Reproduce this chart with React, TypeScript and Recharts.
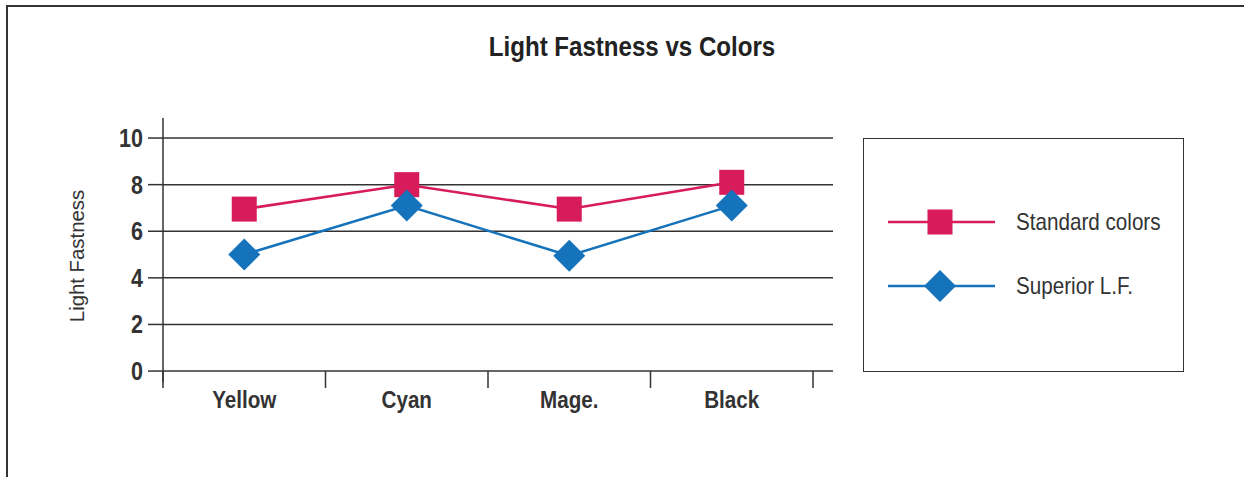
import { CartesianGrid, Legend, Line, LineChart, ReferenceLine, XAxis, YAxis } from "recharts";

const categories = ["Yellow", "Cyan", "Mage.", "Black"];
const standardColors = [6.95, 8, 6.95, 8.1];
const superiorLF = [5, 7.1, 4.95, 7.1];
const yTicks = [0, 2, 4, 6, 8, 10];

const RED = "#D81B5A";
const BLUE = "#1573BB";
const INK = "#333333";
const FONT = "'Liberation Sans', Arial, sans-serif";
const SQUEEZE = 0.86; // the original uses a condensed face

const data = categories.map((name, i) => ({
  name,
  standard: standardColors[i],
  superior: superiorLF[i],
}));

// square marker for the standard series
const SquareDot = (props: any) => {
  const { cx, cy } = props;
  if (cx == null || cy == null) return null;
  return <rect x={cx - 12.5} y={cy - 12.5} width={25} height={25} fill={RED} />;
};

// diamond marker for the superior series
const DiamondDot = (props: any) => {
  const { cx, cy } = props;
  if (cx == null || cy == null) return null;
  const r = 16;
  return (
    <path
      d={`M${cx},${cy - r} L${cx + r},${cy} L${cx},${cy + r} L${cx - r},${cy} Z`}
      fill={BLUE}
    />
  );
};

const CatTick = (props: any) => {
  const { x, y, payload } = props;
  return (
    <g transform={`translate(${x},${y}) scale(${SQUEEZE},1)`}>
      <text
        x={0}
        y={0}
        dy={17}
        textAnchor="middle"
        fontFamily={FONT}
        fontSize={24}
        fontWeight="bold"
        fill={INK}
      >
        {payload.value}
      </text>
    </g>
  );
};

const YTick = (props: any) => {
  const { x, y, payload } = props;
  return (
    <g transform={`translate(${x},${y}) scale(${SQUEEZE},1)`}>
      <text
        x={0}
        y={0}
        dy={9}
        textAnchor="end"
        fontFamily={FONT}
        fontSize={25}
        fontWeight="bold"
        fill={INK}
      >
        {payload.value}
      </text>
    </g>
  );
};

const YLabel = (props: any) => {
  const { viewBox } = props;
  const cx = viewBox.x + 77;
  const cy = viewBox.y + viewBox.height / 2 + 6;
  return (
    <g transform={`translate(${cx},${cy}) rotate(-90) scale(0.97,1)`}>
      <text x={0} y={0} dy={7} textAnchor="middle" fontFamily={FONT} fontSize={21} fill={INK}>
        Light Fastness
      </text>
    </g>
  );
};

const LegendBox = (props: any) => {
  const { payload } = props;
  const items = (payload || []).filter((p: any) => p.dataKey);
  return (
    <div
      style={{
        width: 319,
        height: 232,
        border: `1.5px solid ${INK}`,
        position: "relative",
        background: "#fff",
      }}
    >
      {items.map((entry: any, i: number) => {
        const isStd = entry.dataKey === "standard";
        const color = isStd ? RED : BLUE;
        return (
          <div
            key={entry.dataKey}
            style={{
              position: "absolute",
              left: 24,
              top: 67 + i * 64,
              display: "flex",
              alignItems: "center",
              height: 32,
            }}
          >
            <svg width={108} height={32}>
              <line x1={0} x2={107} y1={16} y2={16} stroke={color} strokeWidth={2.5} />
              {isStd ? (
                <rect x={39.5} y={3.5} width={25} height={25} fill={RED} />
              ) : (
                <path d="M52,0 L68,16 L52,32 L36,16 Z" fill={BLUE} />
              )}
            </svg>
            <span
              style={{
                marginLeft: 20,
                fontFamily: FONT,
                fontSize: 24,
                color: INK,
                display: "inline-block",
                transform: `scaleX(${SQUEEZE})`,
                transformOrigin: "left center",
                whiteSpace: "nowrap",
              }}
            >
              {entry.value}
            </span>
          </div>
        );
      })}
    </div>
  );
};

export default function App() {
  return (
    <div
      style={{
        position: "absolute",
        left: 0,
        top: 0,
        width: 1244,
        height: 477,
        background: "#fff",
        overflow: "hidden",
      }}
    >
      <div
        style={{
          position: "absolute",
          left: 6,
          top: 5,
          width: 1260,
          height: 500,
          borderLeft: `2px solid ${INK}`,
          borderTop: `2px solid ${INK}`,
        }}
      />
      <div
        style={{
          position: "absolute",
          left: 332,
          top: 31,
          width: 600,
          textAlign: "center",
          fontFamily: FONT,
          fontWeight: "bold",
          fontSize: 28,
          color: "#222",
          transform: `scaleX(${SQUEEZE})`,
          transformOrigin: "center center",
          whiteSpace: "nowrap",
        }}
      >
        Light Fastness vs Colors
      </div>
      <div style={{ position: "absolute", left: 0, top: 0 }}>
        <LineChart
          width={1244}
          height={477}
          data={data}
          margin={{ top: 118, right: 411, bottom: 65, left: 0 }}
        >
          <CartesianGrid
            horizontal
            vertical={false}
            syncWithTicks
            stroke={INK}
            strokeWidth={1.5}
          />
          <XAxis
            dataKey="name"
            scale="band"
            padding={{ left: 0, right: 20 }}
            axisLine={false}
            tickLine={false}
            tickSize={0}
            tickMargin={9}
            height={30}
            interval={0}
            tick={<CatTick />}
          />
          <YAxis
            width={163}
            type="number"
            domain={[-0.47, 10.86]}
            ticks={yTicks}
            allowDataOverflow
            axisLine={{ stroke: INK, strokeWidth: 1.5 }}
            tickLine={{ stroke: INK, strokeWidth: 1.5 }}
            tickSize={15}
            tickMargin={5}
            tick={<YTick />}
            label={<YLabel />}
          />
          {/* category separators hanging below the zero line */}
          {categories.map((c) => (
            <ReferenceLine
              key={`sep-${c}`}
              segment={[
                { x: c, y: 0 },
                { x: c, y: -0.73 },
              ]}
              position="start"
              ifOverflow="visible"
              stroke={INK}
              strokeWidth={1.5}
            />
          ))}
          <ReferenceLine
            segment={[
              { x: categories[categories.length - 1], y: 0 },
              { x: categories[categories.length - 1], y: -0.73 },
            ]}
            position="end"
            ifOverflow="visible"
            stroke={INK}
            strokeWidth={1.5}
          />
          <Line
            type="linear"
            dataKey="standard"
            name="Standard colors"
            stroke={RED}
            strokeWidth={2.5}
            dot={<SquareDot />}
            activeDot={false}
            isAnimationActive={false}
          />
          <Line
            type="linear"
            dataKey="superior"
            name="Superior L.F."
            stroke={BLUE}
            strokeWidth={2.5}
            dot={<DiamondDot />}
            activeDot={false}
            isAnimationActive={false}
          />
          <Legend
            layout="horizontal"
            align="center"
            verticalAlign="middle"
            content={<LegendBox />}
            wrapperStyle={{ position: "absolute", left: 863, top: 138, width: 322, height: 235 }}
          />
        </LineChart>
      </div>
    </div>
  );
}
